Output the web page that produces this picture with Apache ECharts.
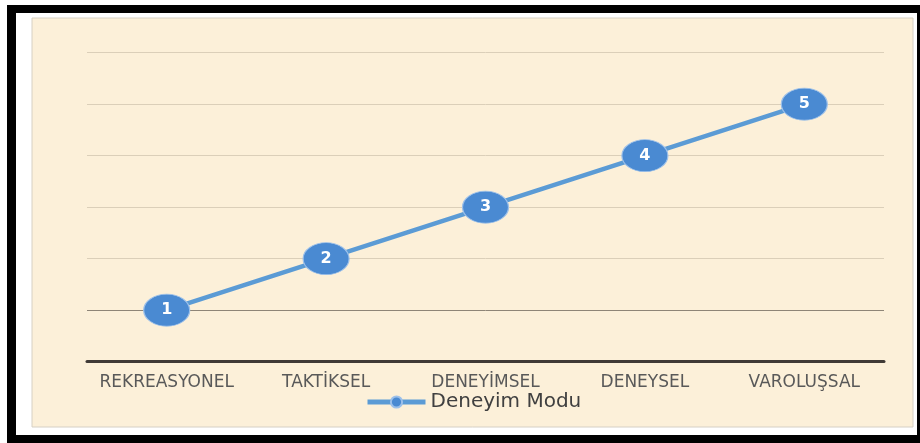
<!DOCTYPE html>
<html><head><meta charset="utf-8">
<script src="https://cdn.jsdelivr.net/npm/echarts@6/dist/echarts.min.js"></script>
<style>html,body{margin:0;padding:0;background:#fff}#c{width:920px;height:443px}</style>
</head><body><div id="c"></div>
<script>
const categories = ['REKREASYONEL', 'TAKTİKSEL', 'DENEYİMSEL', 'DENEYSEL', 'VAROLUŞSAL'];
const values = [1, 2, 3, 4, 5];
const seriesName = 'Deneyim Modu';

const chart = echarts.init(document.getElementById('c'), null, {renderer: 'canvas'});
chart.setOption({
  animation: false,
  graphic: [
    {type: 'rect', z: -10, silent: true, shape: {x: 7, y: 5, width: 913, height: 438}, style: {fill: '#000'}},
    {type: 'rect', z: -9, silent: true, shape: {x: 16, y: 13, width: 901, height: 422}, style: {fill: '#fff'}},
    {type: 'rect', z: -8, silent: true, shape: {x: 32, y: 18, width: 881, height: 409}, style: {fill: '#FCF0D9', stroke: '#D6D0C4', lineWidth: 1}}
  ],
  grid: {left: 87, right: 36, top: 52.7, bottom: 81.3},
  xAxis: {
    type: 'category', data: categories, boundaryGap: true,
    axisLine: {lineStyle: {color: '#403A36', width: 3}},
    axisTick: {show: false},
    axisLabel: {interval: 0, hideOverlap: false, color: '#595959', fontSize: 17, margin: 12, fontFamily: 'DejaVu Sans'}
  },
  yAxis: {
    type: 'value', min: 0, max: 6, interval: 1,
    axisLabel: {show: false}, axisLine: {show: false}, axisTick: {show: false},
    splitLine: {lineStyle: {color: ['#C9BFAE', '#8E8577', '#DBCFB9', '#DBCFB9', '#DBCFB9', '#DBCFB9', '#DBCFB9'], width: 1}}
  },
  legend: {
    data: [seriesName], left: 360, top: 387,
    itemWidth: 58, itemHeight: 14, itemGap: 4,
    lineStyle: {width: 5},
    textStyle: {color: '#404040', fontSize: 20, fontFamily: 'DejaVu Sans'}
  },
  series: [{
    name: seriesName, type: 'line', data: values,
    symbol: 'circle', symbolSize: [46, 32],
    lineStyle: {color: '#5B9BD5', width: 4.5},
    itemStyle: {color: '#4A8AD2', borderColor: '#9CC0EA', borderWidth: 1},
    label: {show: true, position: 'inside', color: '#fff', fontWeight: 'bold', fontSize: 16, fontFamily: 'DejaVu Sans'}
  }]
});
</script></body></html>
